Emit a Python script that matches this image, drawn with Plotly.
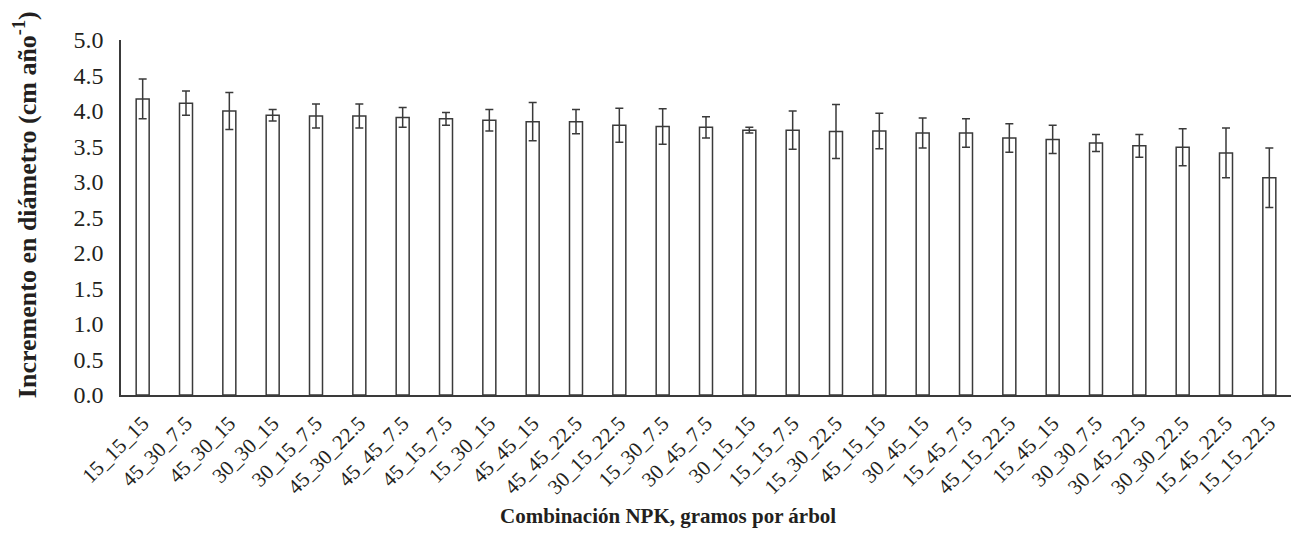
import plotly.graph_objects as go

categories = ["15_15_15", "45_30_7.5", "45_30_15", "30_30_15", "30_15_7.5", "45_30_22.5",
              "45_45_7.5", "45_15_7.5", "15_30_15", "45_45_15", "45_45_22.5", "30_15_22.5",
              "15_30_7.5", "30_45_7.5", "30_15_15", "15_15_7.5", "15_30_22.5", "45_15_15",
              "30_45_15", "15_45_7.5", "45_15_22.5", "15_45_15", "30_30_7.5", "30_45_22.5",
              "30_30_22.5", "15_45_22.5", "15_15_22.5"]
means = [4.17, 4.11, 4.00, 3.94, 3.93, 3.93, 3.91, 3.89, 3.87, 3.85, 3.85, 3.80, 3.78, 3.77,
         3.73, 3.73, 3.71, 3.72, 3.69, 3.69, 3.62, 3.60, 3.55, 3.51, 3.49, 3.41, 3.06]
errors = [0.28, 0.17, 0.26, 0.08, 0.17, 0.17, 0.14, 0.09, 0.15, 0.27, 0.17, 0.24, 0.25, 0.15,
          0.04, 0.27, 0.38, 0.25, 0.21, 0.20, 0.20, 0.20, 0.12, 0.16, 0.26, 0.35, 0.42]
y_ticks = [0.0, 0.5, 1.0, 1.5, 2.0, 2.5, 3.0, 3.5, 4.0, 4.5, 5.0]
x_title = "<b>Combinación NPK, gramos por árbol</b>"
y_title = "<b>Incremento en diámetro (cm año<sup>-1</sup>)</b>"

FONT = "Liberation Serif"
DARK = "#3a3a3a"
TXT = "#231f20"

fig = go.Figure(go.Bar(
    x=categories, y=means,
    marker=dict(color="white", line=dict(color=DARK, width=1.5)),
    error_y=dict(type="data", array=errors, visible=True, color=DARK, thickness=1.5, width=4),
    width=0.3,
))

fig.update_layout(
    width=1291, height=533,
    margin=dict(l=121, r=0, t=40, b=138),
    plot_bgcolor="white", paper_bgcolor="white",
    font=dict(family=FONT, color=TXT),
    showlegend=False,
    xaxis=dict(
        automargin=False,
        showline=True, linecolor=DARK, linewidth=1.5, showgrid=False, ticks="outside",
        ticklen=6, tickcolor="rgba(0,0,0,0)",
        tickangle=-45, tickfont=dict(size=21, family=FONT),
    ),
    yaxis=dict(
        automargin=False,
        range=[0, 5], tickvals=y_ticks, ticktext=[f"{v:.1f}" for v in y_ticks],
        showline=True, linecolor=DARK, linewidth=1.5, showgrid=False, ticks="outside",
        ticklen=11, tickcolor="rgba(0,0,0,0)",
        tickfont=dict(size=24, family=FONT), zeroline=False,
    ),
    annotations=[
        dict(text=x_title, xref="paper", yref="paper", x=0.4675, y=-0.34,
             xanchor="center", yanchor="middle", showarrow=False,
             font=dict(size=21, family=FONT, color=TXT)),
        dict(text=y_title, xref="paper", yref="paper", x=-0.082, y=0.535,
             xanchor="center", yanchor="middle", showarrow=False, textangle=-90,
             font=dict(size=26, family=FONT, color=TXT)),
    ],
)

fig.write_html("out.html", config={"displayModeBar": False},
               post_script="document.body.style.margin='0';document.body.style.overflow='hidden';")
